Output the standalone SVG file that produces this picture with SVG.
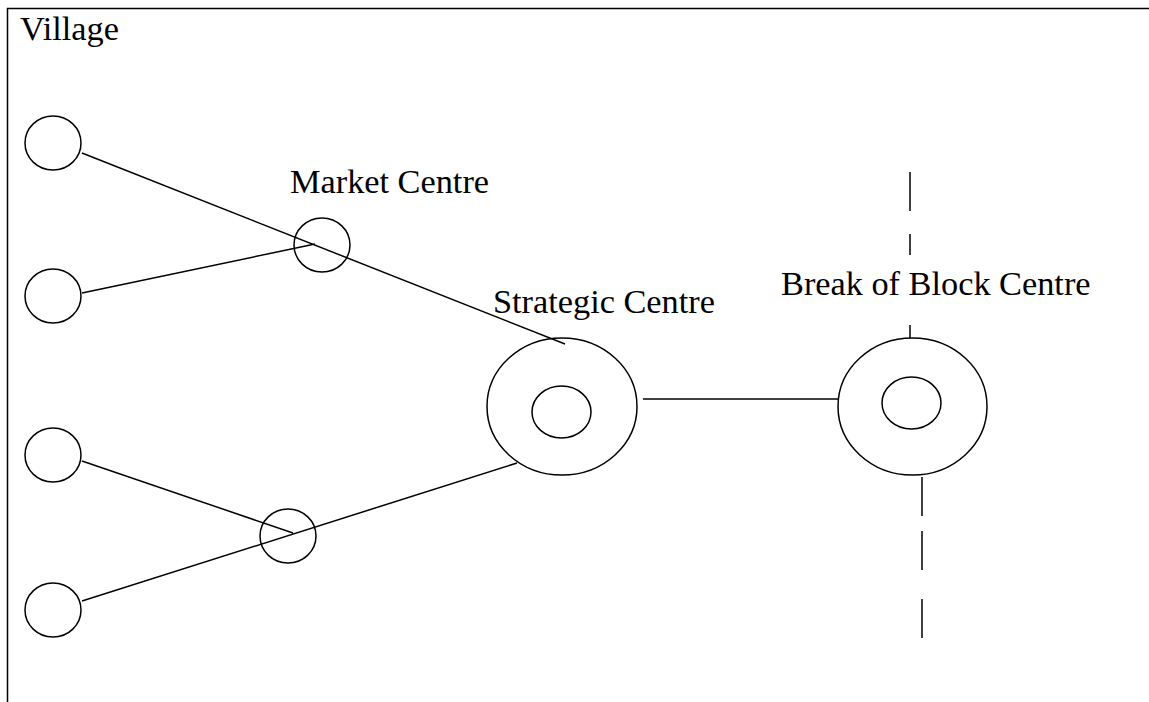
<svg xmlns="http://www.w3.org/2000/svg" width="1149" height="702" viewBox="0 0 1149 702">
<style>
.s{fill:none;stroke:#000;stroke-width:1.5}
.t{font-family:"Liberation Serif","Times New Roman",serif;font-size:34.3px;fill:#000}
</style>
<rect width="1149" height="702" fill="#fff"/>
<path class="s" d="M7.5,702 V8.5 H1149"/>
<g id="connectors">
<line class="s" x1="82" y1="153" x2="565" y2="344"/>
<line class="s" x1="82" y1="293" x2="315" y2="244"/>
<line class="s" x1="82" y1="461" x2="293" y2="533"/>
<line class="s" x1="82" y1="601" x2="517" y2="463"/>
<line class="s" x1="643" y1="399" x2="838" y2="399"/>
<path class="s" d="M910,172 V211 M910,234 V255 M910,325 V338"/>
<path class="s" d="M922,477 V516 M922,531 V570 M922,599 V638"/>
</g>
<g id="village-label"><text class="t" x="20" y="40">Village</text></g>
<g id="village1"><ellipse class="s" cx="53" cy="143" rx="28" ry="27"/></g>
<g id="village2"><ellipse class="s" cx="53" cy="296" rx="28" ry="27"/></g>
<g id="village3"><ellipse class="s" cx="53" cy="455" rx="28" ry="27"/></g>
<g id="village4"><ellipse class="s" cx="53" cy="610" rx="28" ry="27"/></g>
<g id="market1">
<ellipse class="s" cx="322" cy="245" rx="28" ry="27"/>
<text class="t" x="290" y="193">Market Centre</text>
</g>
<g id="market2"><ellipse class="s" cx="288" cy="536" rx="28" ry="27"/></g>
<g id="strategic">
<text class="t" x="493" y="313">Strategic Centre</text>
<ellipse class="s" cx="562" cy="406.5" rx="75" ry="68.5"/>
<ellipse class="s" cx="561.5" cy="412" rx="29.5" ry="26"/>
</g>
<g id="break">
<text class="t" x="781" y="295">Break of Block Centre</text>
<ellipse class="s" cx="912.5" cy="406.5" rx="74.5" ry="68.5"/>
<ellipse class="s" cx="911.5" cy="403" rx="29.5" ry="26"/>
</g>
</svg>
